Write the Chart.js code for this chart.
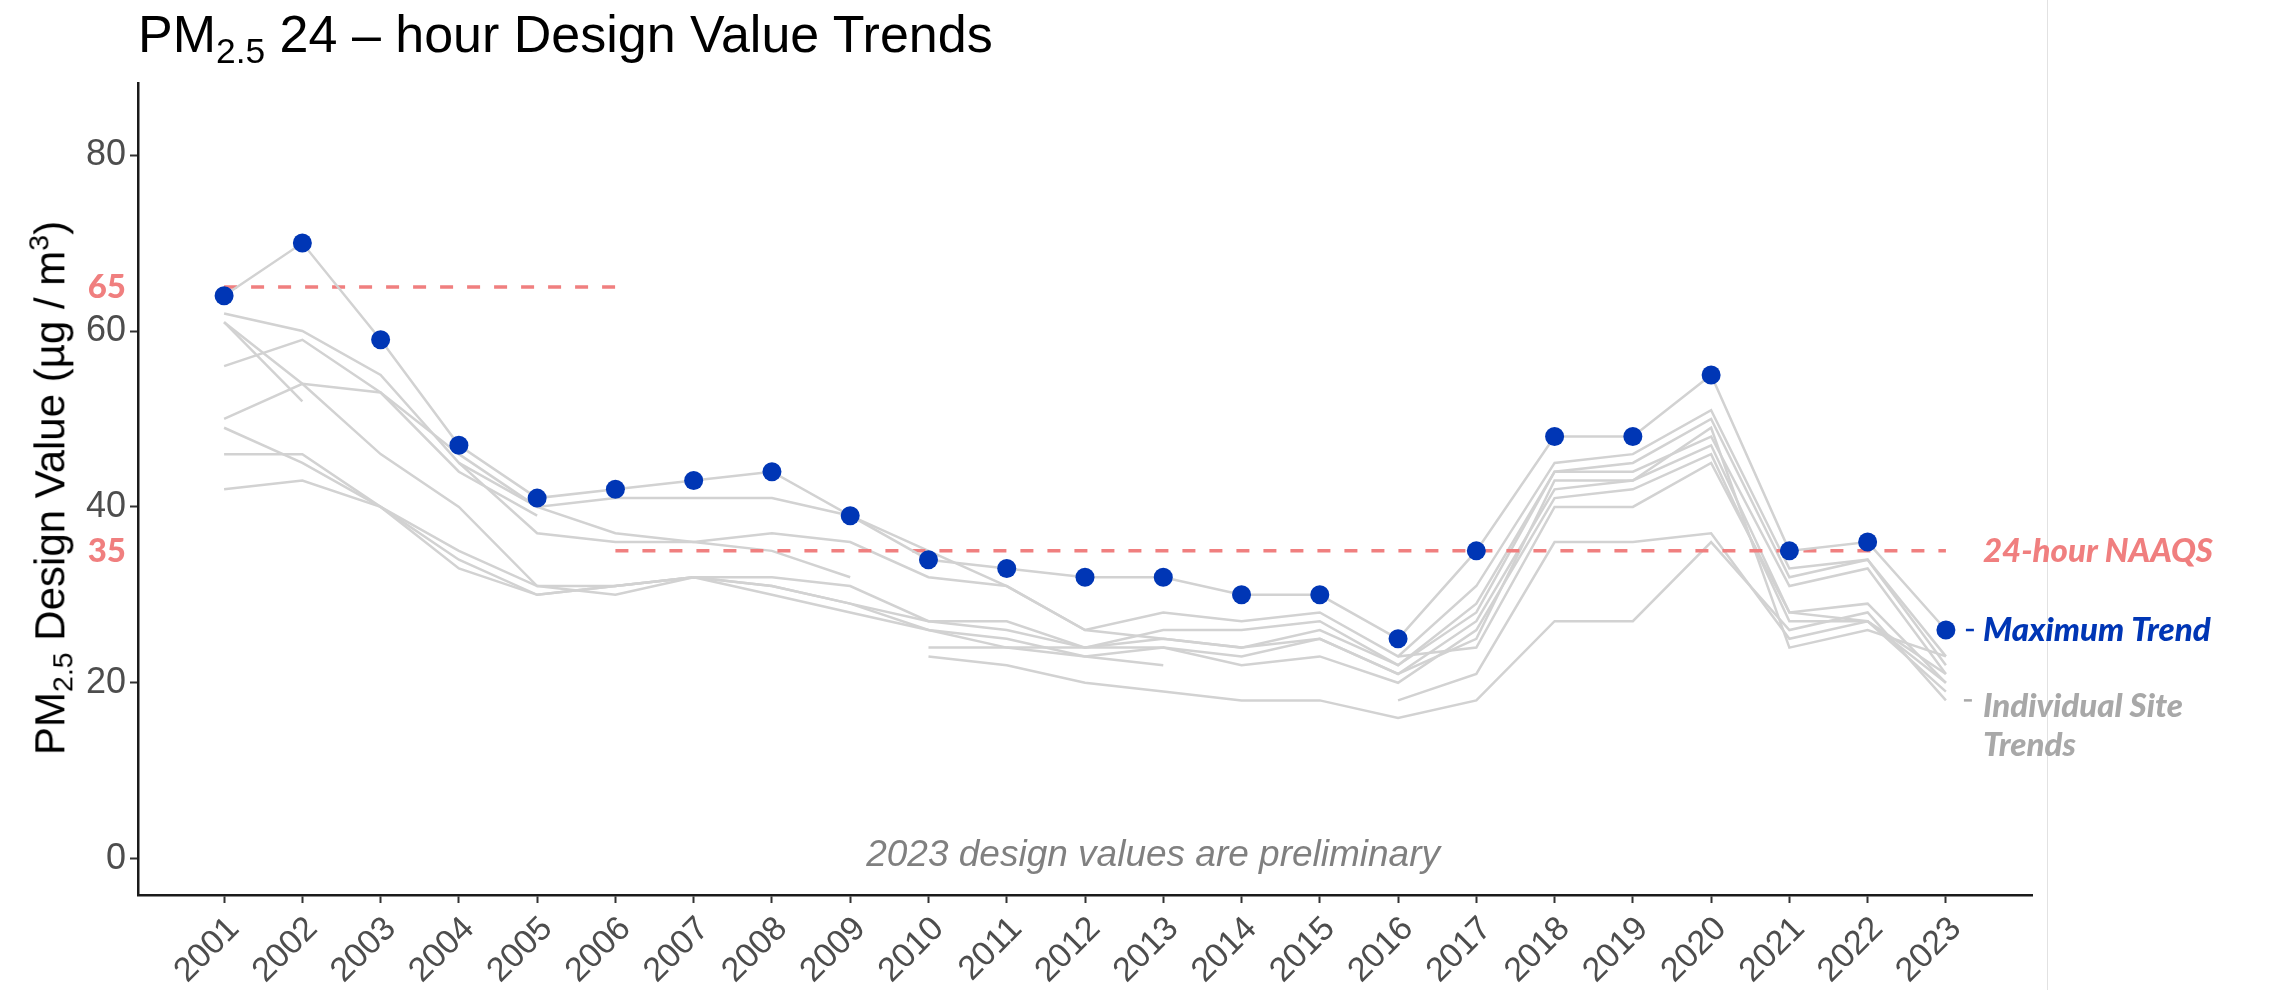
<!DOCTYPE html>
<html>
<head>
<meta charset="utf-8">
<script src="https://cdn.jsdelivr.net/npm/chart.js@4"></script>
<style>
  html, body { margin: 0; padding: 0; background: #fff; }
  #wrap { position: relative; width: 2275px; height: 990px; }
  #title { position: absolute; left: 138px; top: 8px; font: 52px "Liberation Sans", Arial, sans-serif; line-height: 52px; color: #000; white-space: nowrap; }
  #ytitle { position: absolute; left: 51px; top: 488px; transform: translate(-50%, -50%) rotate(-90deg); font: 42px "Liberation Sans", Arial, sans-serif; color: #000; white-space: nowrap; }
  sub { font-size: 0.68em; vertical-align: -0.3em; }
  sup { font-size: 0.68em; vertical-align: 0.55em; }
</style>
</head>
<body>
<div id="wrap">
  <canvas id="trendChart"></canvas>
  <div id="title">PM<sub>2.5</sub> 24 – hour Design Value Trends</div>
  <div id="ytitle">PM<sub>2.5</sub> Design Value (µg / m<sup>3</sup>)</div>
</div>
<script>
const years = [2001, 2002, 2003, 2004, 2005, 2006, 2007, 2008, 2009, 2010, 2011, 2012,
               2013, 2014, 2015, 2016, 2017, 2018, 2019, 2020, 2021, 2022, 2023];

// maximum design value across sites, per year
const maxTrend = [64, 70, 59, 47, 41, 42, 43, 44, 39, 34, 33, 32, 32, 30, 30, 25, 35, 48, 48, 55, 35, 36, 26];

// individual site trends (null = no valid design value that year)
const siteA = [62, 60, 55, 45, 37, 36, 36, 37, 36, 32, 31, 26, 28, 27, 28, 23, 31, 45, 46, 51, 33, 34, 23];
const siteB = [61, 52, null, null, null, null, null, null, null, null, null, null, null, null, null, null, null, null, null, null, null, null, null];
const siteC = [61, 54, 46, 40, 31, 31, 32, 32, 31, 27, 27, 24, 26, 26, 27, 22, 29, 44, 45, 50, 32, 34, 22];
const siteD = [56, 59, 53, 46, 40, 41, 41, 41, 39, 35, 31, 26, 25, 24, 26, 22, 28, 44, 44, 48, 31, 33, 21];
const siteE = [50, 54, 53, 44, 39, null, null, null, null, null, null, null, null, null, null, null, null, null, null, null, null, null, null];
const siteF = [49, 45, 40, 35, 31, 30, 32, 31, 29, 26, 25, 23, 24, 23, 25, 21, 27, 42, 43, 47, 28, 29, 20];
const siteG = [46, 46, 40, 34, 30, 31, 32, 31, 29, 27, 26, 24, 24, 22, 23, 20, 26, 41, 42, 46, 27, 27, 19];
const siteH = [42, 43, 40, 33, 30, 31, 32, 30, 28, 26, 24, 23, 22, null, null, null, null, null, null, null, null, null, null];
const siteI = [null, null, null, 45, 40, 37, 36, 35, 32, null, null, null, null, null, null, null, null, null, null, null, null, null, null];
const siteJ = [null, null, null, null, null, null, null, null, null, 24, 24, 24, 25, 24, 25, 21, 25, 43, 43, 49, 24, 26, 23];
const siteK = [null, null, null, null, null, null, null, null, null, 23, 22, 20, 19, 18, 18, 16, 18, 27, 27, 36, 26, 28, 18];
const siteL = [null, null, null, null, null, null, null, null, null, null, null, null, null, null, null, 18, 21, 36, 36, 37, 25, 27, 20];
const siteM = [null, null, null, null, null, null, null, null, null, null, null, null, null, null, null, 23, 24, 40, 40, 45, 28, 27, 21];
const sites = [siteA, siteB, siteC, siteD, siteE, siteF, siteG, siteH, siteI, siteJ, siteK, siteL, siteM];

// NAAQS levels and the years each applied
const naaqsOld = 65;
const naaqsOldYears = [2001, 2006];
const naaqsNew = 35;
const naaqsNewYears = [2006, 2023];

const yTicks = [0, 20, 40, 60, 80];
const naaqsTicks = [naaqsOld, naaqsNew];

const salmon = '#f07f7f';
const blue = '#0036b5';
const siteGray = '#d2d2d2';

function toPoints(vals) {
    return years.map((yr, i) => ({ x: yr, y: vals[i] }));
}

function isNaaqsTick(c) {
    return !!(c && c.tick && naaqsTicks.includes(c.tick.value));
}

const datasets = sites.map(s => ({
    data: toPoints(s),
    borderColor: siteGray,
    borderWidth: 2.5,
    pointRadius: 0,
    spanGaps: false,
    order: 3
}));

datasets.push({
    data: naaqsOldYears.map(yr => ({ x: yr, y: naaqsOld })),
    borderColor: salmon,
    borderWidth: 3.5,
    borderDash: [13, 14],
    pointRadius: 0,
    order: 2
});
datasets.push({
    data: naaqsNewYears.map(yr => ({ x: yr, y: naaqsNew })),
    borderColor: salmon,
    borderWidth: 3.5,
    borderDash: [13, 14],
    pointRadius: 0,
    order: 2
});
datasets.push({
    data: toPoints(maxTrend),
    borderColor: siteGray,
    borderWidth: 2.5,
    pointRadius: 9.5,
    pointBackgroundColor: blue,
    pointBorderColor: blue,
    pointBorderWidth: 0,
    order: 1
});

const notes = {
    id: 'notes',
    afterDraw(chart) {
        const { ctx, scales: { x, y } } = chart;
        ctx.save();
        // right edge rule
        ctx.strokeStyle = '#e2e2e2';
        ctx.lineWidth = 1;
        ctx.beginPath();
        ctx.moveTo(2047.5, 0);
        ctx.lineTo(2047.5, 990);
        ctx.stroke();

        const lx = x.getPixelForValue(2023) + 37;
        ctx.textBaseline = 'middle';
        ctx.textAlign = 'left';
        ctx.font = 'italic 900 33px Lato, "Open Sans", sans-serif';

        ctx.fillStyle = salmon;
        ctx.fillText('24-hour NAAQS', lx, y.getPixelForValue(naaqsNew));

        ctx.fillStyle = blue;
        ctx.fillText('Maximum Trend', lx, y.getPixelForValue(26));
        ctx.strokeStyle = blue;
        ctx.lineWidth = 2.5;
        ctx.beginPath();
        ctx.moveTo(lx - 17, y.getPixelForValue(26));
        ctx.lineTo(lx - 9, y.getPixelForValue(26));
        ctx.stroke();

        ctx.fillStyle = '#a8a8a8';
        ctx.fillText('Individual Site', lx, y.getPixelForValue(17.3));
        ctx.fillText('Trends', lx, y.getPixelForValue(12.9));
        ctx.strokeStyle = '#a8a8a8';
        ctx.beginPath();
        ctx.moveTo(lx - 19, y.getPixelForValue(18));
        ctx.lineTo(lx - 11, y.getPixelForValue(18));
        ctx.stroke();

        ctx.fillStyle = '#808080';
        ctx.textAlign = 'center';
        ctx.font = 'italic 37px "Liberation Sans", Arial, sans-serif';
        ctx.fillText('2023 design values are preliminary', x.getPixelForValue(2012.87), y.getPixelForValue(0.3));
        ctx.restore();
    }
};

const chart = new Chart(document.getElementById('trendChart'), {
    type: 'line',
    data: { datasets: datasets },
    options: {
        responsive: true,
        maintainAspectRatio: false,
        animation: false,
        layout: { padding: { left: 0, top: 83, right: 243, bottom: 0 } },
        plugins: {
            legend: { display: false },
            tooltip: { enabled: false }
        },
        scales: {
            x: {
                type: 'linear',
                min: 1999.9,
                max: 2024.1,
                afterBuildTicks: (scale) => { scale.ticks = years.map(v => ({ value: v })); },
                afterFit: (scale) => { scale.height = 95; },
                ticks: {
                    autoSkip: false,
                    maxRotation: 45,
                    minRotation: 45,
                    padding: 6,
                    labelOffset: 10,
                    color: '#4d4d4d',
                    font: { family: '"Liberation Sans", Arial, sans-serif', size: 34 },
                    callback: (v) => String(v)
                },
                grid: { drawOnChartArea: false, tickLength: 8, tickColor: '#333', tickWidth: 2 },
                border: { display: true, color: '#1a1a1a', width: 2.5 }
            },
            y: {
                min: -4.13,
                max: 88.2,
                afterBuildTicks: (scale) => { scale.ticks = yTicks.concat(naaqsTicks).map(v => ({ value: v })); },
                afterFit: (scale) => { scale.width = 138; },
                ticks: {
                    padding: 4,
                    color: (c) => isNaaqsTick(c) ? salmon : '#4d4d4d',
                    font: (c) => isNaaqsTick(c)
                        ? { family: 'Lato, "Open Sans", sans-serif', size: 33, weight: '900' }
                        : { family: '"Liberation Sans", Arial, sans-serif', size: 36 }
                },
                grid: {
                    drawOnChartArea: false,
                    tickLength: 8,
                    tickWidth: 2,
                    tickColor: (c) => isNaaqsTick(c) ? 'rgba(0,0,0,0)' : '#333'
                },
                border: { display: true, color: '#1a1a1a', width: 2.5 }
            }
        }
    },
    plugins: [notes]
});
</script>
</body>
</html>
